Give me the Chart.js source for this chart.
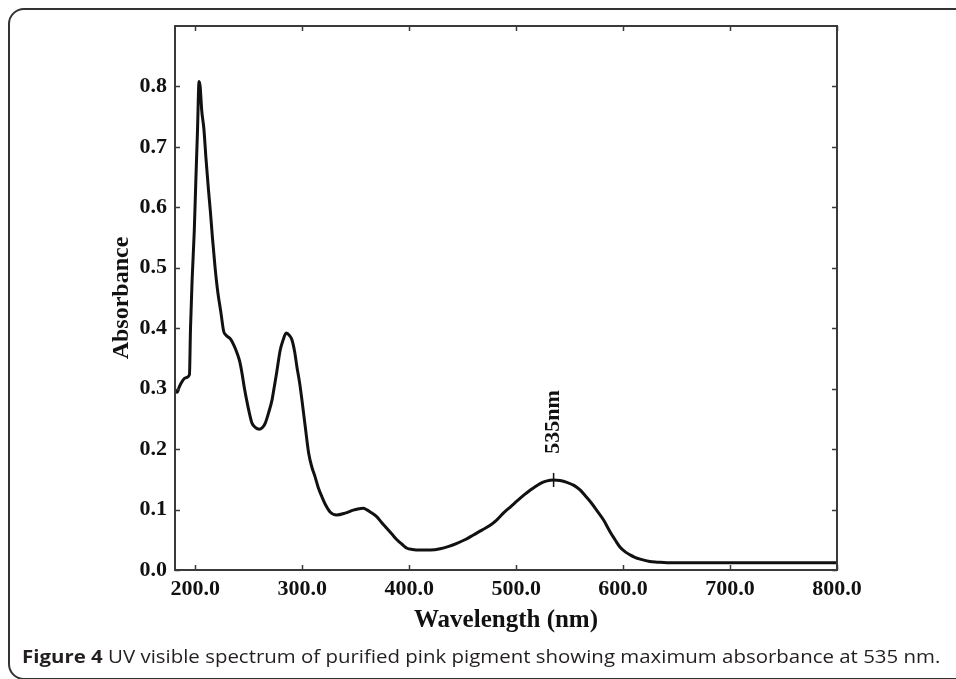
<!DOCTYPE html>
<html>
<head>
<meta charset="utf-8">
<script src="https://cdn.jsdelivr.net/npm/chart.js@4"></script>
<style>
  html, body { margin: 0; padding: 0; background: #fff; overflow: hidden; }
  #wrap { position: relative; width: 956px; height: 679px; overflow: hidden; }
  #frame { position: absolute; left: 8px; top: 8px; width: 1000px; height: 672px;
           border: 2px solid #333; border-radius: 16px; box-sizing: border-box; }
  #c { position: absolute; left: 0; top: 0; }
  #caption { position: absolute; left: 22px; top: 644px; font-family: "Open Sans", sans-serif;
             font-size: 18px; color: #231f20; white-space: nowrap;
             transform: scaleX(1.135); transform-origin: 0 50%; }
</style>
</head>
<body>
<div id="wrap">
  <div id="frame"></div>
  <canvas id="c" width="956" height="679"></canvas>
  <div id="caption"><b>Figure 4</b> UV visible spectrum of purified pink pigment showing maximum absorbance at 535 nm.</div>
</div>
<script>
// Absorption spectrum of the purified pigment
const wavelengths = [
  181, 183, 185, 188, 191, 194.5, 195.5, 197, 199, 200.5, 202, 203.5, 204.5,
  206, 208, 210, 212, 214, 216, 218.5, 221, 224, 226.5, 229, 233, 236, 239,
  241.5, 243.6, 246, 248, 250.5, 253, 256, 260, 263, 265.4, 268.5, 271.7, 274,
  276, 279.4, 282, 285, 288, 290.3, 293, 295, 297.5, 299.7, 302.8, 306, 309,
  312, 315, 318.4, 322, 326, 332, 340, 347.7, 352, 357, 360, 363.6, 369.8, 374,
  379, 384, 388.5, 393, 398, 403, 410, 420, 429, 437, 444.6, 452, 460, 468,
  475.7, 482, 488, 495, 502, 508, 513, 518, 522.4, 528, 535, 541, 547.4, 554,
  560, 565, 570.7, 576, 581.6, 587.9, 592.5, 597, 602, 606.5, 611, 616, 625,
  632, 641, 700, 800
];
const absorbance = [
  0.298, 0.294, 0.303, 0.313, 0.318, 0.323, 0.400, 0.480, 0.560, 0.645, 0.725, 0.808, 0.800,
  0.760, 0.730, 0.680, 0.635, 0.595, 0.550, 0.500, 0.460, 0.425, 0.395, 0.388, 0.382, 0.372, 0.359,
  0.345, 0.326, 0.300, 0.281, 0.260, 0.243, 0.236, 0.233, 0.236, 0.243, 0.260, 0.281, 0.305,
  0.326, 0.364, 0.380, 0.392, 0.388, 0.381, 0.360, 0.336, 0.310, 0.281, 0.237, 0.193, 0.170,
  0.154, 0.136, 0.121, 0.107, 0.096, 0.091, 0.094, 0.099, 0.101, 0.102, 0.100, 0.096, 0.088, 0.079,
  0.069, 0.059, 0.050, 0.043, 0.036, 0.034, 0.033, 0.033, 0.035, 0.039, 0.044, 0.050, 0.058, 0.066,
  0.074, 0.083, 0.094, 0.105, 0.116, 0.125, 0.132, 0.138, 0.143, 0.147, 0.149, 0.148, 0.145, 0.140,
  0.132, 0.122, 0.110, 0.097, 0.083, 0.063, 0.050, 0.038, 0.030, 0.025, 0.021, 0.018, 0.014,
  0.013, 0.012, 0.012, 0.012
];

const xTickValues = [200, 300, 400, 500, 600, 700, 800];
const yTickValues = [0.0, 0.1, 0.2, 0.3, 0.4, 0.5, 0.6, 0.7, 0.8];

const peakWavelength = 535;
const peakAbsorbance = 0.149;
const peakLabel = peakWavelength + 'nm';

const serif = '"Liberation Serif", "Times New Roman", serif';
const ink = '#111';

// Box frame, inward tick marks on all four sides and the peak annotation
const framePlugin = {
  id: 'framePlugin',
  afterDatasetsDraw(chart) {
    const { ctx, chartArea: a, scales } = chart;
    ctx.save();
    ctx.strokeStyle = '#3a3a3a';
    ctx.lineWidth = 2;
    ctx.strokeRect(a.left, a.top, a.right - a.left, a.bottom - a.top);

    ctx.lineWidth = 1.5;
    ctx.beginPath();
    const tl = 5;
    xTickValues.forEach(v => {
      const px = Math.round(scales.x.getPixelForValue(v)) + 0.5;
      ctx.moveTo(px, a.bottom); ctx.lineTo(px, a.bottom - tl);
      ctx.moveTo(px, a.top); ctx.lineTo(px, a.top + tl);
    });
    yTickValues.forEach(v => {
      const py = Math.round(scales.y.getPixelForValue(v)) + 0.5;
      ctx.moveTo(a.left, py); ctx.lineTo(a.left + tl, py);
      ctx.moveTo(a.right, py); ctx.lineTo(a.right - tl, py);
    });
    ctx.stroke();

    // rotated peak label above the marker
    const lx = scales.x.getPixelForValue(peakWavelength);
    const ly = scales.y.getPixelForValue(peakAbsorbance) - 58;
    ctx.translate(lx, ly);
    ctx.rotate(-Math.PI / 2);
    ctx.fillStyle = ink;
    ctx.font = 'bold 22px ' + serif;
    ctx.textAlign = 'center';
    ctx.textBaseline = 'middle';
    ctx.fillText(peakLabel, 0, 0);
    ctx.restore();
  }
};

new Chart(document.getElementById('c'), {
  type: 'line',
  data: {
    datasets: [
      {
        data: wavelengths.map((w, i) => ({ x: w, y: absorbance[i] })),
        borderColor: ink,
        borderWidth: 3,
        pointRadius: 0,
        cubicInterpolationMode: 'monotone',
        fill: false
      },
      {
        data: [{ x: peakWavelength, y: peakAbsorbance }],
        showLine: false,
        pointStyle: 'line',
        rotation: 90,
        pointRadius: 7,
        borderColor: ink,
        borderWidth: 1.5,
        backgroundColor: ink
      }
    ]
  },
  options: {
    responsive: false,
    maintainAspectRatio: false,
    animation: false,
    devicePixelRatio: 1,
    layout: { padding: { left: 0, top: 26, right: 119, bottom: 0 } },
    plugins: { legend: { display: false }, tooltip: { enabled: false } },
    scales: {
      x: {
        type: 'linear',
        min: 181,
        max: 800,
        afterBuildTicks: s => { s.ticks = xTickValues.map(v => ({ value: v })); },
        afterFit: s => { s.height = 109; },
        grid: { display: false, drawTicks: false },
        border: { display: false },
        ticks: {
          callback: v => Number(v).toFixed(1),
          font: { family: serif, weight: 'bold', size: 22 },
          color: ink,
          padding: 6,
          maxRotation: 0,
          autoSkip: false
        },
        title: {
          display: true,
          text: 'Wavelength (nm)',
          font: { family: serif, weight: 'bold', size: 25 },
          color: ink,
          padding: { top: 0, bottom: 43 }
        }
      },
      y: {
        type: 'linear',
        min: 0,
        max: 0.9,
        afterBuildTicks: s => { s.ticks = yTickValues.map(v => ({ value: v })); },
        afterFit: s => { s.width = 175; },
        grid: { display: false, drawTicks: false },
        border: { display: false },
        ticks: {
          callback: v => Number(v).toFixed(1),
          font: { family: serif, weight: 'bold', size: 22 },
          color: ink,
          padding: 8,
          autoSkip: false
        },
        title: {
          display: true,
          text: 'Absorbance',
          font: { family: serif, weight: 'bold', size: 24 },
          color: ink,
          padding: { top: 107, bottom: 0 }
        }
      }
    }
  },
  plugins: [framePlugin]
});
</script>
</body>
</html>
